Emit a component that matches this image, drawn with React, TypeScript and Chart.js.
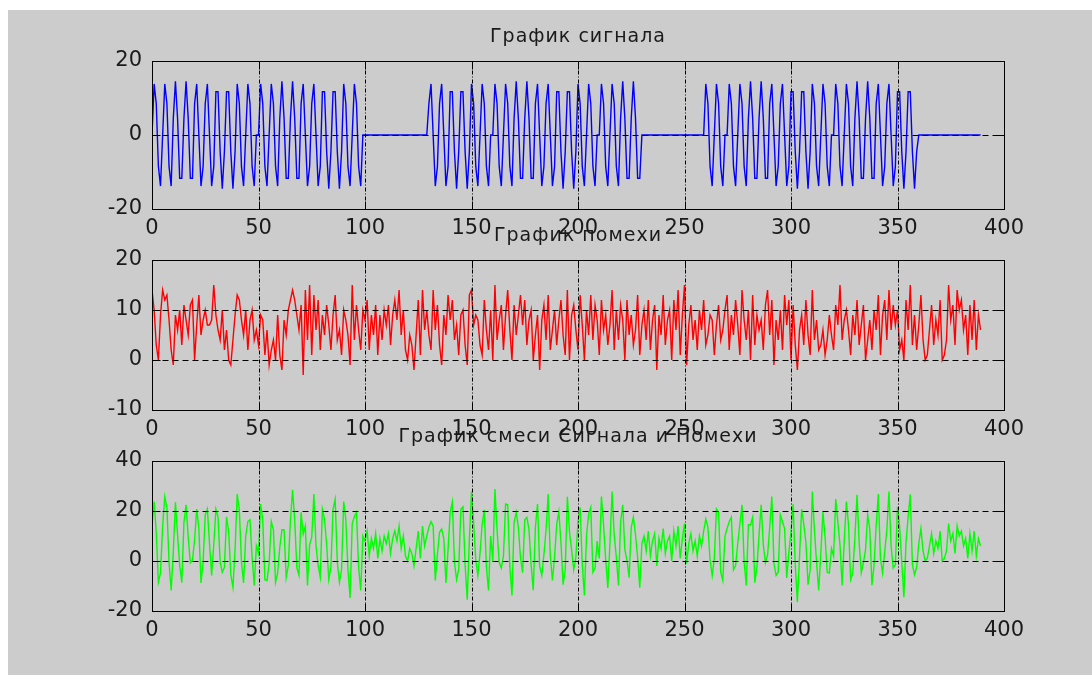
import React, { useEffect, useRef } from "react";
import { Chart, registerables } from "chart.js";

Chart.register(...registerables);

// ---------- data ----------
const xTickStep = 50;
const xMin = 0;
const xMax = 400;

const titles = ["График сигнала", "График помехи", "График смеси Сигнала и Помехи"];

const signal = [
  0, 13.8, 8.5, -8.5, -13.8, 0, 13.8, 8.5, -8.5, -13.8,
  4.5, 14.5, 4.5, -11.7, -11.7, 4.5, 14.5, 4.5, -11.7, -11.7,
  8.5, 13.8, 0, -13.8, -8.5, 8.5, 13.8, 0, -13.8, -8.5,
  11.7, 11.7, -4.5, -14.5, -4.5, 11.7, 11.7, -4.5, -14.5, -4.5,
  13.8, 8.5, -8.5, -13.8, 0, 13.8, 8.5, -8.5, -13.8, 0,
  0, 13.8, 8.5, -8.5, -13.8, 0, 13.8, 8.5, -8.5, -13.8,
  4.5, 14.5, 4.5, -11.7, -11.7, 4.5, 14.5, 4.5, -11.7, -11.7,
  8.5, 13.8, 0, -13.8, -8.5, 8.5, 13.8, 0, -13.8, -8.5,
  11.7, 11.7, -4.5, -14.5, -4.5, 11.7, 11.7, -4.5, -14.5, -4.5,
  13.8, 8.5, -8.5, -13.8, 0, 13.8, 8.5, -8.5, -13.8, 0,
  0, 0, 0, 0, 0, 0, 0, 0, 0, 0,
  0, 0, 0, 0, 0, 0, 0, 0, 0, 0,
  0, 0, 0, 0, 0, 0, 0, 0, 0, 0,
  8.5, 13.8, 0, -13.8, -8.5, 8.5, 13.8, 0, -13.8, -8.5,
  11.7, 11.7, -4.5, -14.5, -4.5, 11.7, 11.7, -4.5, -14.5, -4.5,
  13.8, 8.5, -8.5, -13.8, 0, 13.8, 8.5, -8.5, -13.8, 0,
  0, 13.8, 8.5, -8.5, -13.8, 0, 13.8, 8.5, -8.5, -13.8,
  4.5, 14.5, 4.5, -11.7, -11.7, 4.5, 14.5, 4.5, -11.7, -11.7,
  8.5, 13.8, 0, -13.8, -8.5, 8.5, 13.8, 0, -13.8, -8.5,
  11.7, 11.7, -4.5, -14.5, -4.5, 11.7, 11.7, -4.5, -14.5, -4.5,
  13.8, 8.5, -8.5, -13.8, 0, 13.8, 8.5, -8.5, -13.8, 0,
  0, 13.8, 8.5, -8.5, -13.8, 0, 13.8, 8.5, -8.5, -13.8,
  4.5, 14.5, 4.5, -11.7, -11.7, 4.5, 14.5, 4.5, -11.7, -11.7,
  0, 0, 0, 0, 0, 0, 0, 0, 0, 0,
  0, 0, 0, 0, 0, 0, 0, 0, 0, 0,
  0, 0, 0, 0, 0, 0, 0, 0, 0, 0,
  13.8, 8.5, -8.5, -13.8, 0, 13.8, 8.5, -8.5, -13.8, 0,
  0, 13.8, 8.5, -8.5, -13.8, 0, 13.8, 8.5, -8.5, -13.8,
  4.5, 14.5, 4.5, -11.7, -11.7, 4.5, 14.5, 4.5, -11.7, -11.7,
  8.5, 13.8, 0, -13.8, -8.5, 8.5, 13.8, 0, -13.8, -8.5,
  11.7, 11.7, -4.5, -14.5, -4.5, 11.7, 11.7, -4.5, -14.5, -4.5,
  13.8, 8.5, -8.5, -13.8, 0, 13.8, 8.5, -8.5, -13.8, 0,
  0, 13.8, 8.5, -8.5, -13.8, 0, 13.8, 8.5, -8.5, -13.8,
  4.5, 14.5, 4.5, -11.7, -11.7, 4.5, 14.5, 4.5, -11.7, -11.7,
  8.5, 13.8, 0, -13.8, -8.5, 8.5, 13.8, 0, -13.8, -8.5,
  11.7, 11.7, -4.5, -14.5, -4.5, 11.7, 11.7, -4.5, -14.5, -4.5,
  0, 0, 0, 0, 0, 0, 0, 0, 0, 0,
  0, 0, 0, 0, 0, 0, 0, 0, 0, 0,
  0, 0, 0, 0, 0, 0, 0, 0, 0, 0,
];

const noise = [
  14, 10, 3, 0, 9, 14, 12, 13, 8, 2,
  -1, 9, 6, 10, 3, 11, 8, 5, 11, 12,
  0, 7, 13, 5, 8, 10, 7, 7, 8, 15,
  9, 6, 4, 10, 2, 6, 0, -1, 4, 9,
  13, 12, 8, 5, 10, 2, 8, 10, 4, 6,
  3, 9, 8, 1, 6, -1, 2, 4, 0, 9,
  1, -2, 8, 5, 10, 12, 14, 12, 9, 6,
  11, -3, 14, 4, 15, 1, 13, 6, 12, 2,
  9, 5, 11, 7, 2, 9, 13, 4, 6, 1,
  10, 8, 5, -1, 15, 4, 11, 6, 2, 10,
  8, 12, 2, 9, 5, 11, 1, 9, 4, 10,
  7, 11, 3, 9, 12, 8, 14, 5, 10, 2,
  0, 5, 3, -2, 5, 12, 1, 14, 6, 10,
  5, 2, 14, 6, 11, 3, -1, 9, 5, 13,
  8, 12, 4, 7, 1, 9, 10, 3, -1, 13,
  14, 7, 9, 8, 3, 1, 12, 6, 2, 10,
  0, 15, 4, 8, 11, 2, 9, 14, 6, 0,
  11, 5, 9, 13, 7, 12, 3, 8, 10, 0,
  5, 9, -2, 8, 11, 4, 13, 2, 6, 10,
  3, 8, 12, 5, 1, 14, 0, 9, 11, 6,
  2, 13, 7, 0, 10, 5, 13, 4, 11, 8,
  1, 12, 6, 9, 3, 7, 14, 2, 10, 4,
  11, 8, 0, 12, 5, 9, 3, 6, 13, 1,
  7, 10, 4, 12, 2, 8, 11, -2, 9, 5,
  13, 3, 8, 10, 0, 12, 6, 14, 1, 9,
  15, -1, 7, 11, 4, 8, 2, 10, 6, 12,
  3, 5, 9, 8, 1, 7, 11, 4, 6, 10,
  13, 2, 9, 5, 12, 7, 1, 14, 8, 4,
  10, 0, 13, 3, 9, 6, 8, 2, 11, 14,
  5, 12, -1, 8, 4, 10, 2, 13, 7, 12,
  0, 11, 3, -2, 6, 9, 3, 12, 5, 1,
  14, 4, 8, 2, 3, 6, 1, 4, 9, 5,
  2, 11, 7, 15, 4, 8, 10, 6, 1, 9,
  5, 12, 3, 7, 11, 0, 4, 8, 2, 10,
  6, 13, 1, 9, 12, 4, 14, 6, 11, 7,
  10, 2, 4, 0, 12, 6, 15, 3, 9, 2,
  7, 13, 4, 0, 1, 6, 11, 3, 8, 5,
  12, 0, 1, 4, 15, 8, 11, 3, 14, 10,
  12, 6, 9, 1, 11, 4, 12, 2, 9, 6,
];

const mix = [
  14, 23.8, 11.5, -8.5, -4.8, 14, 25.8, 21.5, -0.5, -11.8,
  3.5, 23.5, 10.5, -1.7, -8.7, 15.5, 22.5, 9.5, -0.7, 0.3,
  8.5, 20.8, 13, -8.8, -0.5, 18.5, 20.8, 7, -5.8, 6.5,
  20.7, 17.7, -0.5, -4.5, -2.5, 17.7, 11.7, -5.5, -10.5, 4.5,
  26.8, 20.5, -0.5, -8.8, 10, 15.8, 16.5, 1.5, -9.8, 6,
  3, 22.8, 16.5, -7.5, -7.8, -1, 15.8, 12.5, -8.5, -4.8,
  5.5, 12.5, 12.5, -6.7, -1.7, 16.5, 28.5, 16.5, -2.7, -5.7,
  19.5, 10.8, 14, -9.8, 6.5, 9.5, 26.8, 6, -1.8, -6.5,
  20.7, 16.7, 6.5, -7.5, -2.5, 20.7, 24.7, -0.5, -8.5, -3.5,
  23.8, 16.5, -3.5, -14.8, 15, 17.8, 19.5, -2.5, -11.8, 10,
  8, 12, 2, 9, 5, 11, 1, 9, 4, 10,
  7, 11, 3, 9, 12, 8, 14, 5, 10, 2,
  0, 5, 3, -2, 5, 12, 1, 14, 6, 10,
  13.5, 15.8, 14, -7.8, 2.5, 11.5, 12.8, 9, -8.8, 4.5,
  19.7, 23.7, -0.5, -7.5, -3.5, 20.7, 21.7, -1.5, -15.5, 8.5,
  27.8, 15.5, 0.5, -5.8, 3, 14.8, 20.5, -2.5, -11.8, 10,
  0, 28.8, 12.5, -0.5, -2.8, 2, 22.8, 22.5, -2.5, -13.8,
  15.5, 19.5, 13.5, 1.3, -4.7, 16.5, 17.5, 12.5, -1.7, -11.7,
  13.5, 22.8, -2, -5.8, 2.5, 12.5, 26.8, 2, -7.8, 1.5,
  14.7, 19.7, 7.5, -9.5, -3.5, 25.7, 11.7, 4.5, -3.5, 1.5,
  15.8, 21.5, -1.5, -13.8, 10, 18.8, 21.5, -4.5, -2.8, 8,
  1, 25.8, 14.5, 0.5, -10.8, 7, 27.8, 10.5, 1.5, -9.8,
  15.5, 22.5, 4.5, 0.3, -6.7, 13.5, 17.5, 10.5, 1.3, -10.7,
  7, 10, 4, 12, 2, 8, 11, -2, 9, 5,
  13, 3, 8, 10, 0, 12, 6, 14, 1, 9,
  15, -1, 7, 11, 4, 8, 2, 10, 6, 12,
  16.8, 13.5, 0.5, -5.8, 1, 20.8, 19.5, -4.5, -7.8, 10,
  13, 15.8, 17.5, -3.5, -1.8, 7, 14.8, 22.5, -0.5, -9.8,
  14.5, 14.5, 17.5, -8.7, -2.7, 10.5, 22.5, 6.5, -0.7, 2.3,
  13.5, 25.8, -1, -5.8, -4.5, 18.5, 15.8, 13, -6.8, 3.5,
  11.7, 22.7, -1.5, -16.5, 1.5, 20.7, 14.7, 7.5, -9.5, -3.5,
  27.8, 12.5, -0.5, -11.8, 3, 19.8, 9.5, -4.5, -4.8, 5,
  2, 24.8, 15.5, 6.5, -9.8, 8, 23.8, 14.5, -7.5, -4.8,
  9.5, 26.5, 7.5, -4.7, -0.7, 4.5, 18.5, 12.5, -9.7, -1.7,
  14.5, 26.8, 1, -4.8, 3.5, 12.5, 27.8, 6, -2.8, -1.5,
  21.7, 13.7, -0.5, -14.5, 7.5, 17.7, 26.7, -1.5, -5.5, -2.5,
  7, 13, 4, 0, 1, 6, 11, 3, 8, 5,
  12, 0, 1, 4, 15, 8, 11, 3, 14, 10,
  12, 6, 9, 1, 11, 4, 12, 2, 9, 6,
];

const yRanges = [
  { min: -20, max: 20, step: 20 },
  { min: -10, max: 20, step: 10 },
  { min: -20, max: 40, step: 20 },
];

// ---------- layout / style ----------
const W = 1092;
const H = 675;
const PAD_TOP = 50;
const X_AXIS_H = 45;
const PLOT_LEFT = 152;
const PLOT_RIGHT = 1004;
const FONT = "'DejaVu Sans', 'Liberation Sans', sans-serif";

const panels = [
  { title: titles[0], data: signal, color: "#0000ff", range: yRanges[0], top: 61, h: 148 },
  { title: titles[1], data: noise, color: "#ff0000", range: yRanges[1], top: 260, h: 150 },
  { title: titles[2], data: mix, color: "#00ff00", range: yRanges[2], top: 461, h: 150 },
];

const matlabAxes = {
  id: "matlabAxes",
  afterDatasetsDraw(chart: any) {
    const { ctx, chartArea: a } = chart;
    const x = chart.scales.x;
    const y = chart.scales.y;
    const L = Math.round(a.left) + 0.5;
    const R = Math.round(a.right) + 0.5;
    const T = Math.round(a.top) + 0.5;
    const B = Math.round(a.bottom) + 0.5;
    ctx.save();
    ctx.strokeStyle = "#000";
    ctx.lineWidth = 1;
    const line = (x1: number, y1: number, x2: number, y2: number) => {
      ctx.beginPath();
      ctx.moveTo(x1, y1);
      ctx.lineTo(x2, y2);
      ctx.stroke();
    };
    // vertical grid (dash-dot)
    ctx.setLineDash([4, 2, 1, 2]);
    x.ticks.forEach((t: any) => {
      if (t.value <= x.min || t.value >= x.max) return;
      const px = Math.round(x.getPixelForValue(t.value)) + 0.5;
      line(px, T, px, B);
    });
    // horizontal grid (dashed)
    ctx.setLineDash([6, 4]);
    y.ticks.forEach((t: any) => {
      if (t.value <= y.min || t.value >= y.max) return;
      const py = Math.round(y.getPixelForValue(t.value)) + 0.5;
      line(L, py, R, py);
    });
    ctx.setLineDash([]);
    // inward tick marks
    const tl = 8;
    x.ticks.forEach((t: any) => {
      const px = Math.round(x.getPixelForValue(t.value)) + 0.5;
      line(px, B, px, B - tl);
      line(px, T, px, T + tl);
    });
    y.ticks.forEach((t: any) => {
      const py = Math.round(y.getPixelForValue(t.value)) + 0.5;
      line(L, py, L + tl, py);
      line(R, py, R - tl, py);
    });
    // box
    ctx.strokeRect(L, T, R - L, B - T);
    ctx.restore();
  },
  afterDraw(chart: any, _args: any, opts: any) {
    if (!opts || !opts.title) return;
    const { ctx, chartArea: a } = chart;
    ctx.save();
    ctx.font = `19px ${FONT}`;
    (ctx as any).letterSpacing = "1px";
    ctx.fillStyle = "#1a1a1a";
    ctx.textAlign = "center";
    ctx.textBaseline = "middle";
    ctx.fillText(opts.title, (a.left + a.right) / 2, a.top - 24);
    ctx.restore();
  },
};

function Panel({ p }: { p: typeof panels[number] }) {
  const ref = useRef<HTMLCanvasElement>(null);
  const ch = PAD_TOP + p.h + X_AXIS_H;
  useEffect(() => {
    if (!ref.current) return;
    const chart = new Chart(ref.current, {
      type: "line",
      data: {
        datasets: [
          {
            data: p.data.map((v, i) => ({ x: i, y: v })),
            borderColor: p.color,
            borderWidth: 1.4,
            pointRadius: 0,
            tension: 0,
            fill: false,
          },
        ],
      },
      plugins: [matlabAxes],
      options: {
        responsive: false,
        animation: false,
        devicePixelRatio: 1,
        layout: { padding: { top: PAD_TOP, left: 0, right: W - PLOT_RIGHT, bottom: 0 } },
        plugins: {
          legend: { display: false },
          tooltip: { enabled: false },
          title: { display: false },
          matlabAxes: { title: p.title },
        } as any,
        scales: {
          x: {
            type: "linear",
            min: xMin,
            max: xMax,
            grid: { display: false, drawTicks: false, tickLength: 0 },
            border: { display: false },
            ticks: {
              stepSize: xTickStep,
              autoSkip: false,
              maxRotation: 0,
              padding: 7,
              color: "#1a1a1a",
              font: { family: FONT, size: 21 },
            },
            afterFit: (s: any) => {
              s.height = X_AXIS_H;
            },
          },
          y: {
            type: "linear",
            min: p.range.min,
            max: p.range.max,
            grid: { display: false, drawTicks: false, tickLength: 0 },
            border: { display: false },
            ticks: {
              stepSize: p.range.step,
              padding: 10,
              color: "#1a1a1a",
              font: { family: FONT, size: 21 },
            },
            afterFit: (s: any) => {
              s.width = PLOT_LEFT;
            },
          },
        },
      } as any,
    });
    return () => chart.destroy();
  }, []);
  return (
    <canvas
      ref={ref}
      width={W}
      height={ch}
      style={{ position: "absolute", left: 0, top: p.top - PAD_TOP, width: W, height: ch }}
    />
  );
}

export default function App() {
  useEffect(() => {
    document.body.style.margin = "0";
  }, []);
  return (
    <div style={{ position: "absolute", left: 0, top: 0, width: W, height: H, background: "#ffffff", overflow: "hidden" }}>
      <div style={{ position: "absolute", left: 8, top: 10, right: 0, bottom: 0, background: "#cccccc" }} />
      {panels.map((p, i) => (
        <Panel key={i} p={p} />
      ))}
    </div>
  );
}
